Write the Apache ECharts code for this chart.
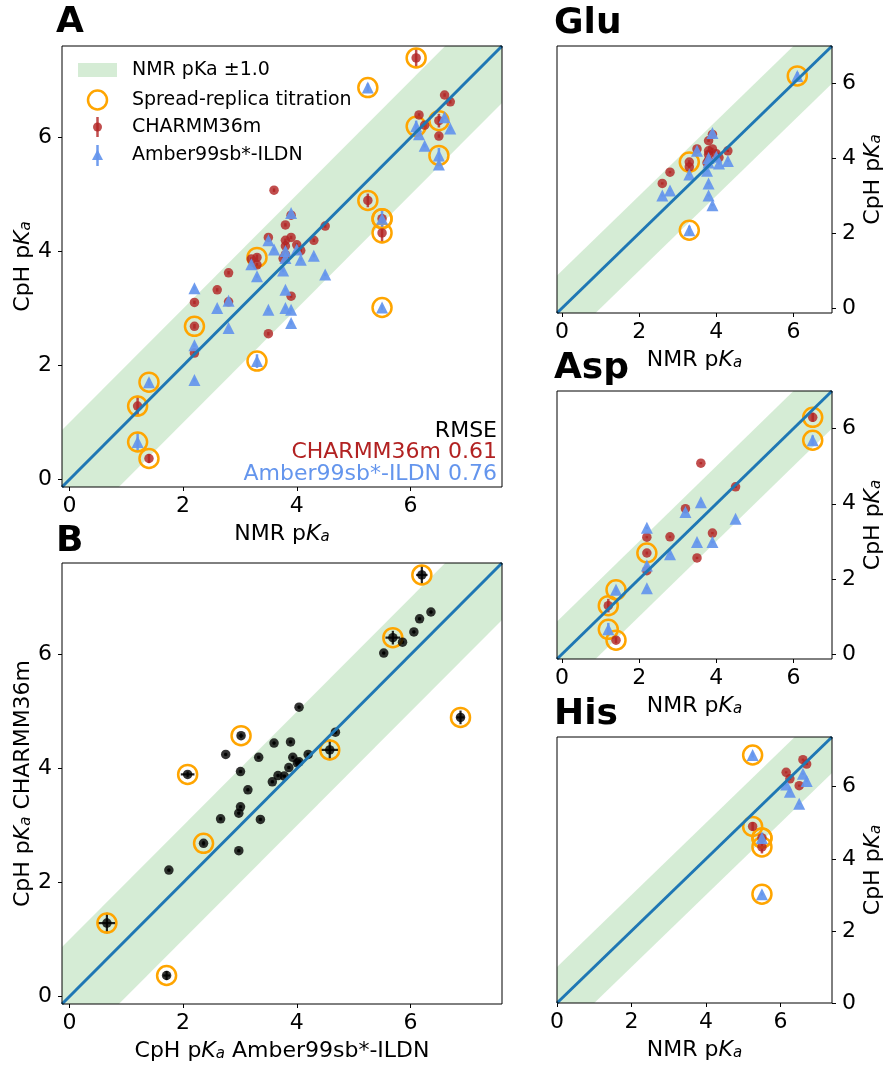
<!DOCTYPE html>
<html>
<head>
<meta charset="utf-8">
<script src="https://cdn.jsdelivr.net/npm/echarts@6/dist/echarts.min.js"></script>
<style>
  html, body { margin: 0; padding: 0; background: #fff; }
  #chart { width: 885px; height: 1065px; }
</style>
</head>
<body>
<div id="chart"></div>
<script>
// NMR pKa and CpH pKa per residue (CHARMM36m = C, Amber99sb*-ILDN = A)
const gluNmr = [2.6, 2.8, 3.3, 3.3, 3.5, 3.76, 3.8, 3.8, 3.8, 3.8, 3.9, 3.9, 4.0, 4.07, 4.3, 6.1];
const gluC   = [3.33, 3.63, 3.90, 3.77, 4.25, 3.88, 4.47, 4.20, 3.95, 4.10, 4.64, 4.25, 4.12, 4.02, 4.20, 7.40];
const gluA   = [3.01, 3.14, 2.08, 3.57, 4.20, 3.67, 3.89, 3.33, 3.01, 4.01, 4.68, 2.75, 4.04, 3.86, 3.93, 6.20];
const gluCErr = [0.03, 0.03, 0.05, 0.03, 0.03, 0.03, 0.03, 0.03, 0.03, 0.03, 0.03, 0.03, 0.03, 0.03, 0.03, 0.17];
const gluAErr = [0.03, 0.03, 0.12, 0.03, 0.03, 0.03, 0.03, 0.03, 0.03, 0.03, 0.03, 0.03, 0.03, 0.03, 0.03, 0.10];
const gluCSpread = [0, 0, 1, 0, 0, 0, 0, 0, 0, 0, 0, 0, 0, 0, 0, 1];
const gluASpread = [0, 0, 1, 0, 0, 0, 0, 0, 0, 0, 0, 0, 0, 0, 0, 1];

const aspNmr = [1.2, 1.4, 2.2, 2.2, 2.2, 2.8, 3.2, 3.5, 3.6, 3.9, 4.5, 6.5];
const aspC   = [1.29, 0.37, 3.11, 2.69, 2.22, 3.12, 3.87, 2.56, 5.08, 3.22, 4.45, 6.30];
const aspA   = [0.66, 1.71, 3.36, 2.36, 1.75, 2.66, 3.78, 2.98, 4.04, 2.98, 3.60, 5.69];
const aspCErr = [0.18, 0.08, 0.03, 0.04, 0.03, 0.03, 0.03, 0.03, 0.03, 0.03, 0.03, 0.12];
const aspAErr = [0.17, 0.06, 0.03, 0.03, 0.03, 0.03, 0.03, 0.03, 0.03, 0.03, 0.03, 0.13];
const aspCSpread = [1, 1, 0, 1, 0, 0, 0, 0, 0, 0, 0, 1];
const aspASpread = [1, 1, 0, 0, 0, 0, 0, 0, 0, 0, 0, 1];

const hisNmr = [5.25, 5.5, 5.5, 6.15, 6.25, 6.5, 6.6, 6.7];
const hisC   = [4.90, 4.33, 4.58, 6.40, 6.22, 6.03, 6.75, 6.63];
const hisA   = [6.88, 4.58, 3.02, 6.06, 5.86, 5.53, 6.36, 6.16];
const hisCErr = [0.12, 0.18, 0.04, 0.03, 0.03, 0.03, 0.03, 0.03];
const hisAErr = [0.07, 0.15, 0.04, 0.03, 0.03, 0.03, 0.03, 0.03];
const hisCSpread = [1, 1, 1, 0, 0, 0, 0, 0];
const hisASpread = [1, 1, 1, 0, 0, 0, 0, 0];

const tickValues = [0, 2, 4, 6];
const bandHalfWidth = 1.0;
const rmseCharmm = "0.61";
const rmseAmber = "0.76";

const FONT = "DejaVu Sans";
const RED = "rgba(178,34,34,0.8)";
const BLUE = "rgba(100,149,237,0.92)";
const ORANGE = "#ffa500";
const GREEN = "rgba(44,160,44,0.2)";
const LINE = "#1f77b4";

const rich = {
  n: { fontSize: 22, fontFamily: FONT, color: "#000", lineHeight: 26, verticalAlign: "bottom" },
  k: { fontSize: 22, fontFamily: FONT, color: "#000", fontStyle: "italic", lineHeight: 26, verticalAlign: "bottom" },
  s: { fontSize: 15, fontFamily: FONT, color: "#000", fontStyle: "italic", lineHeight: 12, verticalAlign: "bottom" },
};
function pka(prefix, suffix) {
  return "{n|" + prefix + "p}{k|K}{s|a}" + (suffix ? "{n|" + suffix + "}" : "");
}

const panels = [
  { grid: { left: 62, top: 46, width: 440, height: 441 }, range: [-0.13, 7.61], side: "left",
    xName: pka("NMR "), yName: pka("CpH ") },
  { grid: { left: 62, top: 563, width: 440, height: 441 }, range: [-0.13, 7.61], side: "left",
    xName: pka("CpH ", " Amber99sb*-ILDN"), yName: pka("CpH ", " CHARMM36m") },
  { grid: { left: 557, top: 46, width: 275, height: 267 }, range: [-0.13, 7.0], side: "right",
    xName: pka("NMR "), yName: pka("CpH ") },
  { grid: { left: 557, top: 391, width: 275, height: 268 }, range: [-0.13, 7.0], side: "right",
    xName: pka("NMR "), yName: pka("CpH ") },
  { grid: { left: 557, top: 737, width: 275, height: 266 }, range: [0, 7.38], side: "right",
    xName: pka("NMR "), yName: pka("CpH ") },
];

const grids = [], xAxes = [], yAxes = [], series = [];

panels.forEach(function (p, i) {
  grids.push(Object.assign({ show: true, borderColor: "#000", borderWidth: 1, z: 10 }, p.grid));
  const common = {
    gridIndex: i, type: "value", min: p.range[0], max: p.range[1],
    axisLine: { show: false, onZero: false },
    axisTick: { show: true, length: 4, customValues: tickValues, lineStyle: { color: "#000", width: 1 } },
    axisLabel: { customValues: tickValues, fontSize: 22, fontFamily: FONT, color: "#000" },
    splitLine: { show: false },
    nameLocation: "middle",
    nameTextStyle: { rich: rich },
  };
  xAxes.push(Object.assign({}, common, { position: "bottom", name: p.xName, nameGap: 32,
    axisLabel: Object.assign({}, common.axisLabel, { margin: 8 }) }));
  yAxes.push(Object.assign({}, common, { position: p.side, name: p.yName, nameRotate: 90, nameGap: 26,
    axisLabel: Object.assign({}, common.axisLabel, { margin: 10 }) }));

  const lo = p.range[0], hi = p.range[1];
  // +-1 band around identity
  series.push({
    type: "custom", xAxisIndex: i, yAxisIndex: i, clip: true, silent: true,
    data: [[lo, hi]],
    encode: { x: 0, y: 1 },
    renderItem: function (params, api) {
      const pts = [[lo, lo - bandHalfWidth], [hi, hi - bandHalfWidth], [hi, hi + bandHalfWidth], [lo, lo + bandHalfWidth]]
        .map(function (d) { return api.coord(d); });
      return { type: "polygon", shape: { points: pts }, style: { fill: GREEN } };
    },
  });
  series.push({
    type: "line", xAxisIndex: i, yAxisIndex: i, silent: true, symbol: "none",
    data: [[lo, lo], [hi, hi]],
    lineStyle: { color: LINE, width: 3 },
  });
});

function vErr(color, width) {
  return function (params, api) {
    const x = api.value(0), y = api.value(1), e = api.value(2);
    const a = api.coord([x, y - e]), b = api.coord([x, y + e]);
    return { type: "line", shape: { x1: a[0], y1: a[1], x2: b[0], y2: b[1] }, style: { stroke: color, lineWidth: width } };
  };
}
function xyErr(color, width) {
  return function (params, api) {
    const x = api.value(0), y = api.value(1), ex = api.value(2), ey = api.value(3);
    const a = api.coord([x, y - ey]), b = api.coord([x, y + ey]);
    const c = api.coord([x - ex, y]), d = api.coord([x + ex, y]);
    return {
      type: "group", children: [
        { type: "line", shape: { x1: a[0], y1: a[1], x2: b[0], y2: b[1] }, style: { stroke: color, lineWidth: width } },
        { type: "line", shape: { x1: c[0], y1: c[1], x2: d[0], y2: d[1] }, style: { stroke: color, lineWidth: width } },
      ],
    };
  };
}

function nmrPanel(i, nmr, c, a, cErr, aErr, cSp, aSp) {
  const circles = [];
  nmr.forEach(function (x, k) {
    if (cSp[k]) circles.push([x, c[k]]);
    if (aSp[k]) circles.push([x, a[k]]);
  });
  series.push({
    type: "scatter", xAxisIndex: i, yAxisIndex: i, silent: true, symbol: "circle", symbolSize: 19,
    itemStyle: { color: "rgba(0,0,0,0)", borderColor: ORANGE, borderWidth: 2.5, opacity: 1 },
    data: circles,
  });
  series.push({
    type: "custom", xAxisIndex: i, yAxisIndex: i, clip: true, silent: true, encode: { x: 0, y: 1 },
    data: nmr.map(function (x, k) { return [x, c[k], cErr[k]]; }),
    renderItem: vErr(RED, 2.5),
  });
  series.push({
    type: "scatter", xAxisIndex: i, yAxisIndex: i, silent: true, symbol: "circle", symbolSize: 9.5,
    itemStyle: { color: RED, opacity: 1 },
    data: nmr.map(function (x, k) { return [x, c[k]]; }),
  });
  series.push({
    type: "custom", xAxisIndex: i, yAxisIndex: i, clip: true, silent: true, encode: { x: 0, y: 1 },
    data: nmr.map(function (x, k) { return [x, a[k], aErr[k]]; }),
    renderItem: vErr(BLUE, 2.5),
  });
  series.push({
    type: "scatter", xAxisIndex: i, yAxisIndex: i, silent: true, symbol: "triangle", symbolSize: 12,
    itemStyle: { color: BLUE, opacity: 1 },
    data: nmr.map(function (x, k) { return [x, a[k]]; }),
  });
}

const allNmr = gluNmr.concat(aspNmr, hisNmr);
const allC = gluC.concat(aspC, hisC);
const allA = gluA.concat(aspA, hisA);
const allCErr = gluCErr.concat(aspCErr, hisCErr);
const allAErr = gluAErr.concat(aspAErr, hisAErr);
const allCSp = gluCSpread.concat(aspCSpread, hisCSpread);
const allASp = gluASpread.concat(aspASpread, hisASpread);

nmrPanel(0, allNmr, allC, allA, allCErr, allAErr, allCSp, allASp);
nmrPanel(2, gluNmr, gluC, gluA, gluCErr, gluAErr, gluCSpread, gluASpread);
nmrPanel(3, aspNmr, aspC, aspA, aspCErr, aspAErr, aspCSpread, aspASpread);
nmrPanel(4, hisNmr, hisC, hisA, hisCErr, hisAErr, hisCSpread, hisASpread);

// panel B: CHARMM36m vs Amber99sb*-ILDN
series.push({
  type: "scatter", xAxisIndex: 1, yAxisIndex: 1, silent: true, symbol: "circle", symbolSize: 19,
  itemStyle: { color: "rgba(0,0,0,0)", borderColor: ORANGE, borderWidth: 2.5, opacity: 1 },
  data: allA.map(function (x, k) { return [x, allC[k]]; }).filter(function (d, k) { return allCSp[k] || allASp[k]; }),
});
series.push({
  type: "custom", xAxisIndex: 1, yAxisIndex: 1, clip: true, silent: true, encode: { x: 0, y: 1 },
  data: allA.map(function (x, k) { return [x, allC[k], allAErr[k], allCErr[k]]; }),
  renderItem: xyErr("rgba(0,0,0,0.85)", 2.2),
});
series.push({
  type: "scatter", xAxisIndex: 1, yAxisIndex: 1, silent: true, symbol: "circle", symbolSize: 9.5,
  itemStyle: { color: "rgba(0,0,0,0.8)", opacity: 1 },
  data: allA.map(function (x, k) { return [x, allC[k]]; }),
});

function label(text, x, y) {
  return { type: "text", x: x, y: y, style: { text: text, font: "bold 36px 'DejaVu Sans'", fill: "#000", textVerticalAlign: "middle" } };
}
function legText(text, y) {
  return { type: "text", x: 132, y: y, style: { text: text, font: "19px 'DejaVu Sans'", fill: "#000", textVerticalAlign: "middle" } };
}
function rmseText(text, y, color) {
  return { type: "text", x: 497, y: y, style: { text: text, font: "22px 'DejaVu Sans'", fill: color, textAlign: "right", textVerticalAlign: "middle" }, z: 20 };
}

const graphic = [
  label("A", 56, 23), label("B", 56, 542),
  label("Glu", 554, 24), label("Asp", 554, 369), label("His", 554, 715),
  // legend of panel A
  { type: "rect", shape: { x: 78, y: 63, width: 39, height: 14 }, style: { fill: GREEN } },
  { type: "circle", shape: { cx: 97.5, cy: 100, r: 9.5 }, style: { fill: "none", stroke: ORANGE, lineWidth: 2.5 } },
  { type: "line", shape: { x1: 97.5, y1: 117, x2: 97.5, y2: 137 }, style: { stroke: RED, lineWidth: 2.5 } },
  { type: "circle", shape: { cx: 97.5, cy: 127, r: 4.5 }, style: { fill: RED } },
  { type: "line", shape: { x1: 97.5, y1: 145, x2: 97.5, y2: 166 }, style: { stroke: BLUE, lineWidth: 2.5 } },
  { type: "polygon", shape: { points: [[97.5, 149.5], [103, 160], [92, 160]] }, style: { fill: BLUE } },
  legText("NMR pKa \u00b11.0", 70), legText("Spread-replica titration", 100),
  legText("CHARMM36m", 127), legText("Amber99sb*-ILDN", 155),
  rmseText("RMSE", 431, "#000"),
  rmseText("CHARMM36m " + rmseCharmm, 452, "#b22222"),
  rmseText("Amber99sb*-ILDN " + rmseAmber, 474, "#6495ed"),
];

const chart = echarts.init(document.getElementById("chart"), null, { renderer: "canvas" });
chart.setOption({
  animation: false,
  backgroundColor: "#fff",
  grid: grids,
  xAxis: xAxes,
  yAxis: yAxes,
  series: series,
  graphic: graphic,
});
</script>
</body>
</html>
